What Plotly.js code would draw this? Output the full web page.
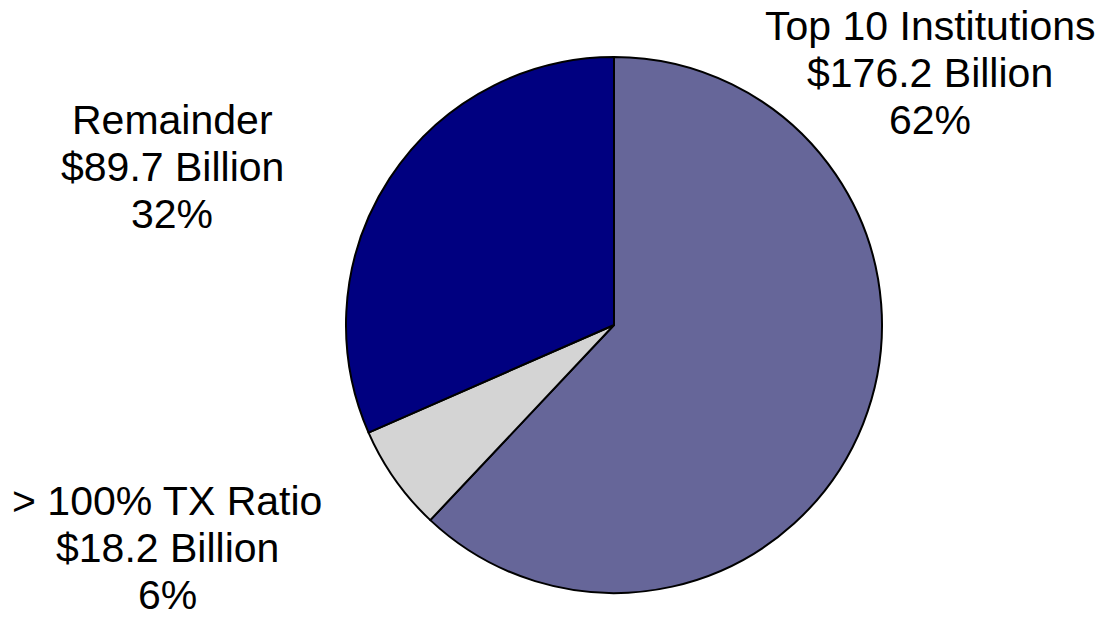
<!DOCTYPE html>
<html>
<head>
<meta charset="utf-8">
<script src="https://cdn.plot.ly/plotly-3.0.1.min.js"></script>
<style>html,body{margin:0;padding:0;background:#fff;}#chart{width:1103px;height:621px;}</style>
</head>
<body>
<div id="chart"></div>
<script>
const labels = ["Top 10 Institutions", "> 100% TX Ratio", "Remainder"];
const values = [176.2, 18.2, 89.7];
const pctLabels = ["62%", "6%", "32%"];
const colors = ["#666699", "#d4d4d4", "#000080"];

const W = 1103, H = 621;
// label anchor positions in pixels (center x, cap-center y of first line)
const labelPos = [[930, 26], [167, 501], [172, 120]];
const lineGap = 47;

const annotations = [];
labels.forEach((lab, i) => {
  const lines = [lab, "$" + values[i].toFixed(1) + " Billion", pctLabels[i]];
  lines.forEach((t, j) => {
    annotations.push({
      text: t, showarrow: false, xref: "paper", yref: "paper",
      x: labelPos[i][0] / W, y: 1 - (labelPos[i][1] + j * lineGap) / H,
      xanchor: "center", yanchor: "middle",
      font: {family: "Liberation Sans, Arial, sans-serif", size: 41, color: "#000"}
    });
  });
});

const cx = 614, cy = 325, r = 268;
const data = [{
  type: "pie",
  labels: labels,
  values: values,
  sort: false,
  direction: "clockwise",
  rotation: 0,
  textinfo: "none",
  hoverinfo: "label+value+percent",
  marker: {colors: colors, line: {color: "#000", width: 2}},
  domain: {x: [(cx - r) / W, (cx + r) / W], y: [1 - (cy + r) / H, 1 - (cy - r) / H]},
  showlegend: false
}];

const layout = {
  width: W, height: H,
  margin: {l: 0, r: 0, t: 0, b: 0},
  paper_bgcolor: "#fff",
  showlegend: false,
  annotations: annotations
};
Plotly.newPlot("chart", data, layout, {displayModeBar: false, staticPlot: true});
</script>
</body>
</html>
